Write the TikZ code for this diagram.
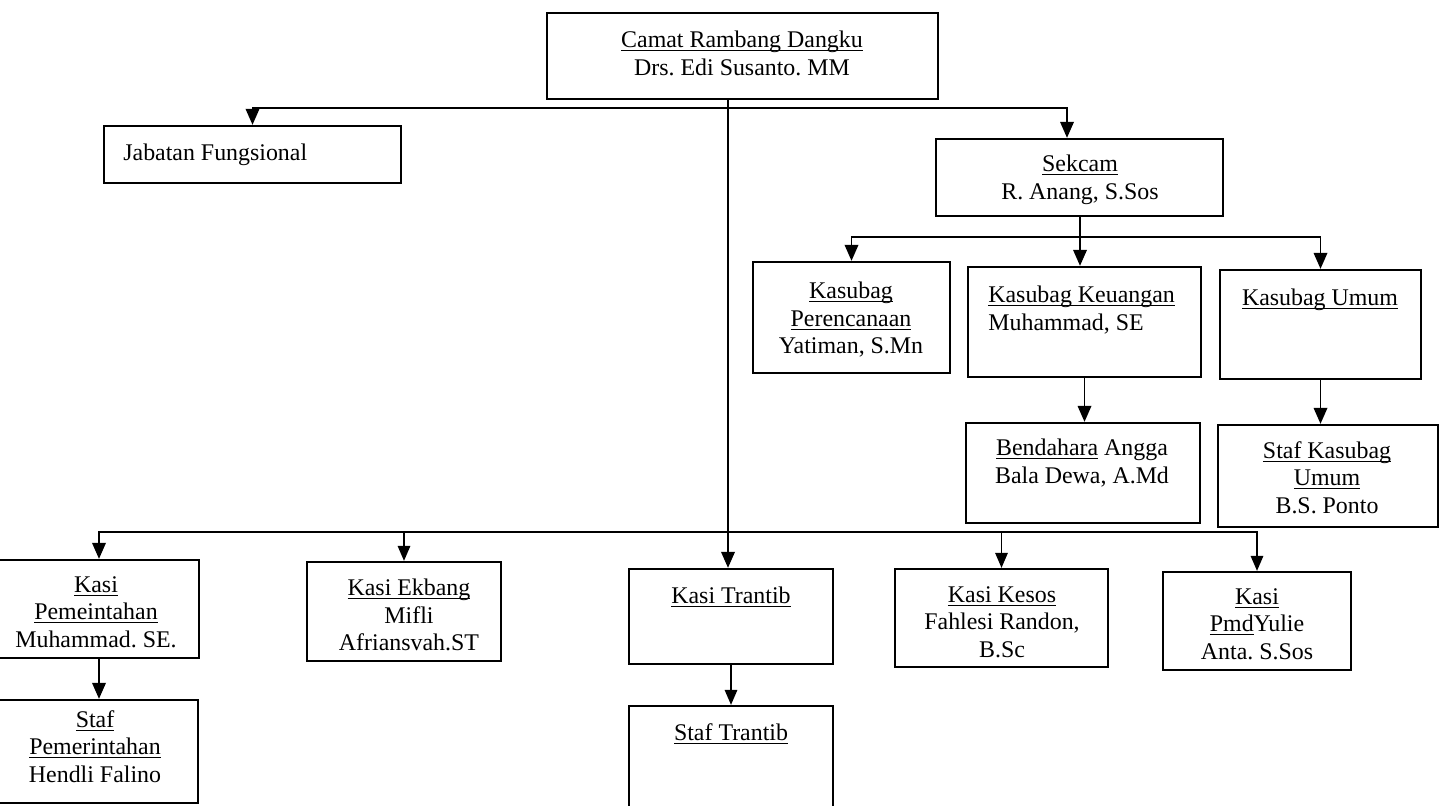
\documentclass[tikz,border=0pt]{standalone}
\usepackage{fontspec}
\setmainfont{Liberation Serif}
\usetikzlibrary{arrows.meta,fit}
\newcommand\undl[1]{\setbox0=\hbox{#1}\rlap{\rule[-2pt]{\wd0}{0.55pt}}\box0\relax}
\frenchspacing
\begin{document}
\begin{tikzpicture}[x=0.02cm,y=-0.02cm,
  box/.style={draw, line width=1.3pt, inner sep=0pt},
  txt/.style={inner sep=0pt, align=center, font=\fontsize{13.6}{15.65}\selectfont\frenchspacing},
  link/.style={line width=1.1pt},
  arr/.style={link, -{Triangle[width=0.27cm,length=0.32cm]}},
  thinarr/.style={line width=0.85pt, -{Triangle[width=0.25cm,length=0.3cm]}}]
\useasboundingbox (0,0) rectangle (1439,805);
\clip (0,0) rectangle (1439,805);
\fill[white] (0,0) rectangle (1439,805);

% boxes
\node[box, fit={(547,13)(938,99)}] (camat) {};
\node[box, fit={(104,126)(401,183)}] (jab) {};
\node[box, fit={(936,139)(1223,216)}] (sek) {};
\node[box, fit={(753,262)(950,373)}] (per) {};
\node[box, fit={(968,267)(1201,377)}] (keu) {};
\node[box, fit={(1220,270)(1421,379)}] (umum) {};
\node[box, fit={(966,423)(1200,523)}] (bend) {};
\node[box, fit={(1218,425)(1438,527)}] (stafumum) {};
\node[box, fit={(-1,560)(199,658)}] (kpem) {};
\node[box, fit={(-1,700)(198,803)}] (spem) {};
\node[box, fit={(307,562)(501,661)}] (kek) {};
\node[box, fit={(629,569)(833,664)}] (ktr) {};
\node[box, fit={(629,706)(833,830)}] (str) {};
\node[box, fit={(895,569)(1108,667)}] (kkes) {};
\node[box, fit={(1163,572)(1351,670)}] (kpmd) {};

% texts
\node[txt, anchor=north] (camat-t) at (742,31) {\undl{Camat Rambang Dangku}\\Drs. Edi Susanto. MM};
\node[txt, anchor=base west] (jab-t) at (123,160) {Jabatan Fungsional};
\node[txt, anchor=north] (sek-t) at (1080,155) {\undl{Sekcam}\\R. Anang, S.Sos};
\node[txt, anchor=north] (per-t) at (851,282) {\undl{Kasubag}\\\undl{Perencanaan}\\Yatiman, S.Mn};
\node[txt, anchor=north west, align=left] (keu-t) at (988,286) {\undl{Kasubag Keuangan}\\Muhammad, SE};
\node[txt, anchor=base] (umum-t) at (1320,305) {\undl{Kasubag Umum}};
\node[txt, anchor=north] (bend-t) at (1082,439) {\undl{Bendahara} Angga\\Bala Dewa, A.Md};
\node[txt, anchor=north] (stafumum-t) at (1327,441) {\undl{Staf Kasubag}\\\undl{Umum}\\B.S. Ponto};
\node[txt, anchor=north] (kpem-t) at (96,576) {\undl{Kasi}\\\undl{Pemeintahan}\\Muhammad. SE.};
\node[txt, anchor=north] (spem-t) at (95,710) {\undl{Staf}\\\undl{Pemerintahan}\\Hendli Falino};
\node[txt, anchor=north] (kek-t) at (409,579) {\undl{Kasi Ekbang}\\Mifli\\Afriansvah.ST};
\node[txt, anchor=base] (ktr-t) at (731,603) {\undl{Kasi Trantib}};
\node[txt, anchor=base] (str-t) at (731,740) {\undl{Staf Trantib}};
\node[txt, anchor=north] (kkes-t) at (1002,586) {\undl{Kasi Kesos}\\Fahlesi Randon,\\B.Sc};
\node[txt, anchor=north] (kpmd-t) at (1257,588) {\undl{Kasi}\\\undl{Pmd}Yulie\\Anta. S.Sos};

% junctions
\coordinate (t) at (728,108);
\coordinate (b) at (728,532);
\coordinate (s) at (1080,237);

% connectors
\draw[link] (camat.south -| t) -- (t);
\draw[arr] (t) -| (jab.north);
\draw[arr] (t) -| ([xshift=-0.25cm]sek.north);
\draw[arr] (t) -- (t |- ktr.north);
\draw[link] (sek.south -| s) -- (s);
\draw[arr] (s) -| (per.north);
\draw[arr] (s) -- (s |- keu.north);
\draw[arr] (s) -| (umum.north);
\draw[arr] (keu.south) -- (keu.south |- bend.north);
\draw[arr] (umum.south) -- (umum.south |- stafumum.north);
\draw[arr] (b) -| (kpem.north);
\draw[thinarr] (b) -| (kek.north);
\draw[thinarr] (b) -| (kkes.north);
\draw[thinarr] (b) -| (kpmd.north);
\draw[arr] (kpem.south) -- (kpem.south |- spem.north);
\draw[thinarr] (ktr.south) -- (ktr.south |- str.north);
\end{tikzpicture}
\end{document}
